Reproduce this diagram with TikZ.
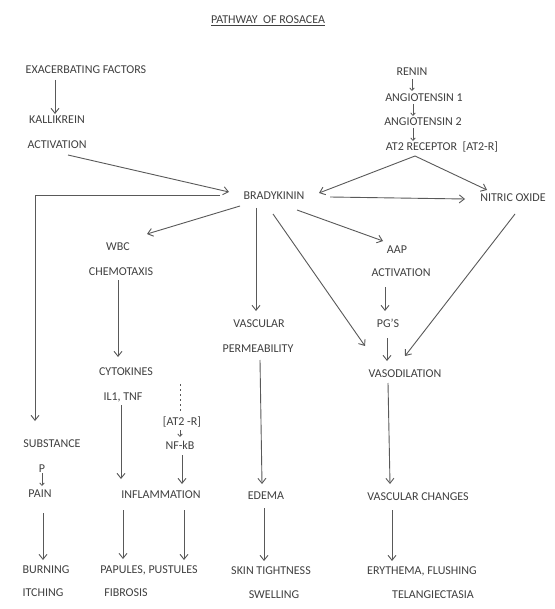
\documentclass[tikz,border=0pt]{standalone}
\usepackage{fontspec}
\setmainfont{Carlito}
\usetikzlibrary{arrows.meta}
\begin{document}
\begin{tikzpicture}[x=1pt,y=-1pt,
  lbl/.style={font=\fontsize{12}{14}\selectfont, text=black!75, inner sep=0pt, text height=8pt, text depth=0pt},
  arr/.style={draw=black!65, line width=0.9pt, -{Straight Barb[length=5pt,width=8pt]}},
  sarr/.style={draw=black!65, line width=0.75pt, -{Straight Barb[length=2.5pt,width=4.5pt]}},
  dotl/.style={draw=black!65, line width=0.8pt, dash pattern=on 2pt off 3pt},
]
\useasboundingbox (0,0) rectangle (554,609);
\fill[white] (0,0) rectangle (554,609);
% nodes
\node[lbl] (title) at (268,20) {\underline{PATHWAY\ \ OF ROSACEA}};
\node[lbl] (exf) at (86,70) {EXACERBATING FACTORS};
\node[lbl] (kal) at (57,120) {KALLIKREIN};
\node[lbl] (act1) at (57,145) {ACTIVATION};
\node[lbl] (renin) at (412,72) {RENIN};
\node[lbl] (ang1) at (424,98) {ANGIOTENSIN 1};
\node[lbl] (ang2) at (423,122) {ANGIOTENSIN 2};
\node[lbl] (at2) at (442,147) {AT2 RECEPTOR\ \ [AT2-R]};
\node[lbl] (brady) at (274,196) {BRADYKININ};
\node[lbl] (no) at (513,198) {NITRIC OXIDE};
\node[lbl] (wbc) at (118,247) {WBC};
\node[lbl] (chemo) at (121,271) {CHEMOTAXIS};
\node[lbl] (cyto) at (126,371) {CYTOKINES};
\node[lbl] (il) at (123,396) {IL1, TNF};
\node[lbl] (at2r) at (182,421) {[AT2 -R]};
\node[lbl] (nfkb) at (180,445) {NF-kB};
\node[lbl] (subst) at (52,443) {SUBSTANCE};
\node[lbl] (p) at (42,468) {P};
\node[lbl] (pain) at (40,493) {PAIN};
\node[lbl] (infl) at (161,494) {INFLAMMATION};
\node[lbl] (vasc) at (259,323) {VASCULAR};
\node[lbl] (perm) at (258,348) {PERMEABILITY};
\node[lbl] (edema) at (266,495) {EDEMA};
\node[lbl] (aap) at (397,249) {AAP};
\node[lbl] (act2) at (401,272) {ACTIVATION};
\node[lbl] (pgs) at (388,323) {PG’S};
\node[lbl] (vasod) at (405,373) {VASODILATION};
\node[lbl] (vch) at (418,496) {VASCULAR CHANGES};
\node[lbl] (burn) at (46,569) {BURNING};
\node[lbl] (itch) at (43,592) {ITCHING};
\node[lbl] (pap) at (149,569) {PAPULES, PUSTULES};
\node[lbl] (fib) at (126,592) {FIBROSIS};
\node[lbl] (skin) at (271,570) {SKIN TIGHTNESS};
\node[lbl] (swell) at (274,594) {SWELLING};
\node[lbl] (ery) at (422,570) {ERYTHEMA, FLUSHING};
\node[lbl] (tel) at (433,594) {TELANGIECTASIA};
\coordinate (dottop) at (180,384);
% connectors
\draw[arr] ([shift={(-31,10)}]exf.center) -- ([shift={(-2,-6)}]kal.center);
\draw[sarr] ([shift={(0,7)}]renin.center) -- ([shift={(-12,-7)}]ang1.center);
\draw[sarr] ([shift={(-11,6)}]ang1.center) -- ([shift={(-10,-6)}]ang2.center);
\draw[sarr] ([shift={(-10,6)}]ang2.center) -- ([shift={(-29,-6)}]at2.center);
\draw[arr] ([shift={(11,10)}]act1.center) -- ([shift={(-45,-4)}]brady.center);
\draw[arr] ([shift={(-27,9)}]at2.center) -- ([shift={(45,-3)}]brady.center);
\draw[arr] ([shift={(-27,9)}]at2.center) -- ([shift={(-26,-8)}]no.center);
\draw[arr] ([shift={(56,1)}]brady.center) -- ([shift={(-48,1)}]no.center);
\draw[arr] ([shift={(-54,-1)}]brady.center) -| ([shift={(-17,-22)}]subst.center);
\draw[arr] ([shift={(-34,10)}]brady.center) -- ([shift={(29,-13)}]wbc.center);
\draw[arr] ([shift={(-18,12)}]brady.center) -- ([shift={(-3,-12)}]vasc.center);
\draw[arr] ([shift={(-1,18)}]brady.center) -- ([shift={(-40,-27)}]vasod.center);
\draw[arr] ([shift={(23,14)}]brady.center) -- ([shift={(-14,-8)}]aap.center);
\draw[arr] ([shift={(2,16)}]no.center) -- ([shift={(0,-17)}]vasod.center);
\draw[arr] ([shift={(-16,15)}]act2.center) -- ([shift={(-3,-12)}]pgs.center);
\draw[arr] ([shift={(-1,15)}]pgs.center) -- ([shift={(-18,-12)}]vasod.center);
\draw[arr] ([shift={(-17,10)}]vasod.center) -- ([shift={(-28,-12)}]vch.center);
\draw[arr] ([shift={(-3,9)}]chemo.center) -- ([shift={(-8,-14)}]cyto.center);
\draw[arr] ([shift={(-2,9)}]il.center) -- ([shift={(-40,-15)}]infl.center);
\draw[dotl] (dottop) -- ([shift={(-2,-9)}]at2r.center);
\draw[sarr] ([shift={(-2,9)}]at2r.center) -- ([shift={(0,-8)}]nfkb.center);
\draw[arr] ([shift={(2,10)}]nfkb.center) -- ([shift={(21,-10)}]infl.center);
\draw[arr] ([shift={(2,12)}]perm.center) -- ([shift={(-4,-11)}]edema.center);
\draw[sarr] ([shift={(0,5)}]p.center) -- ([shift={(2,-7)}]pain.center);
\draw[arr] ([shift={(3,20)}]pain.center) -- ([shift={(-3,-9)}]burn.center);
\draw[arr] ([shift={(-38,16)}]infl.center) -- ([shift={(-26,-10)}]pap.center);
\draw[arr] ([shift={(23,16)}]infl.center) -- ([shift={(35,-9)}]pap.center);
\draw[arr] ([shift={(-2,13)}]edema.center) -- ([shift={(-7,-9)}]skin.center);
\draw[arr] ([shift={(-26,14)}]vch.center) -- ([shift={(-30,-9)}]ery.center);
\end{tikzpicture}
\end{document}
